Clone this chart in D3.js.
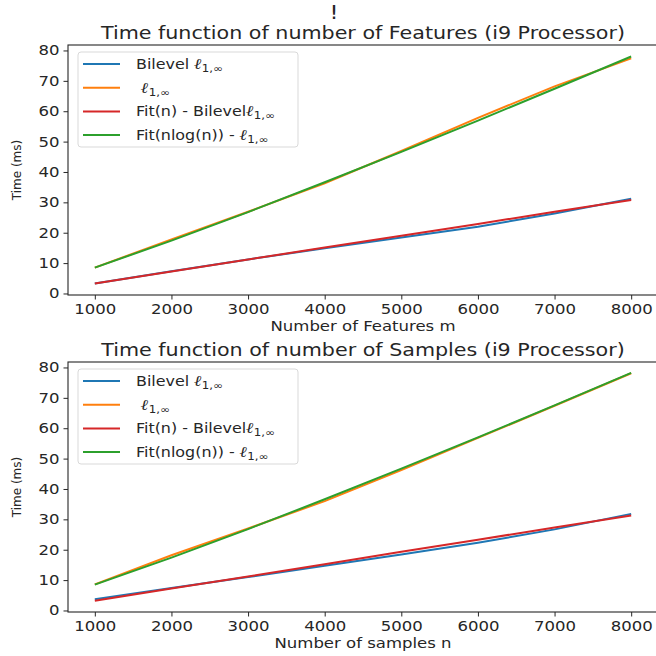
<!DOCTYPE html>
<html>
<head>
<meta charset="utf-8">
<script src="https://cdn.jsdelivr.net/npm/d3@7"></script>
<style>
  body { margin: 0; background: #fff; }
  text { font-family: "DejaVu Sans", sans-serif; fill: #262626; }
</style>
</head>
<body>
<div id="chart"></div>
<script>
// Problem sizes (x values)
var sizes = [1000, 2000, 3000, 4000, 5000, 6000, 7000, 8000];

// Top panel: time vs number of features
var featBilevel   = [3.3, 7.3, 11.2, 14.9, 18.4, 22.0, 26.3, 31.2];
var featL1inf     = [8.5, 17.8, 26.9, 36.3, 46.9, 57.8, 68.2, 77.4];
var featFitN      = [3.3, 7.2, 11.2, 15.1, 19.0, 22.9, 26.9, 30.8];
var featFitNlogN  = [8.5, 17.4, 26.8, 36.6, 46.6, 56.9, 67.4, 78.0];

// Bottom panel: time vs number of samples
var sampBilevel   = [3.7, 7.4, 11.0, 14.7, 18.4, 22.3, 26.7, 31.8];
var sampL1inf     = [8.6, 18.2, 27.0, 36.0, 46.2, 56.8, 67.4, 78.1];
var sampFitN      = [3.2, 7.2, 11.2, 15.2, 19.3, 23.3, 27.3, 31.3];
var sampFitNlogN  = [8.5, 17.4, 26.8, 36.6, 46.7, 57.0, 67.5, 78.2];

var xTicks = [1000, 2000, 3000, 4000, 5000, 6000, 7000, 8000];
var yTicks = [0, 10, 20, 30, 40, 50, 60, 70, 80];

var seriesNames = ["Bilevel ", " ", "Fit(n) - Bilevel", "Fit(nlog(n)) - "];
var colours = ["#1f77b4", "#ff7f0e", "#d62728", "#2ca02c"];

var width = 656, height = 656;
var sx = 1.18; // text in the picture is stretched horizontally

var svg = d3.select("#chart").append("svg")
  .attr("width", width)
  .attr("height", height)
  .attr("viewBox", "0 0 " + width + " " + height);

// stray suptitle
svg.append("text")
  .attr("transform", "translate(334,19) scale(" + sx + ",1)")
  .attr("text-anchor", "middle")
  .style("font-size", "19px")
  .text("!");

function panel(opts) {
  var left = 68, right = 658;
  var top = opts.top, bottom = opts.top + 250;

  var scaleX = d3.scaleLinear().domain([650, 8350]).range([left, right]);
  var scaleY = d3.scaleLinear().domain([-0.5, 81.8]).range([bottom, top]);

  var series = opts.series.map(function (s) {
    return sizes.map(function (n, i) { return { x: n, y: s[i] }; });
  });

  var g = svg.append("g");

  var line = d3.line()
    .x(function (d) { return scaleX(d.x); })
    .y(function (d) { return scaleY(d.y); });

  g.selectAll("path.line")
    .data(series)
    .enter()
    .append("path")
    .attr("class", "line")
    .attr("d", line)
    .attr("fill", "none")
    .attr("stroke", function (d, i) { return colours[i]; })
    .attr("stroke-width", 2);

  // axes
  var xAxis = g.append("g")
    .attr("transform", "translate(0," + bottom + ")")
    .call(d3.axisBottom(scaleX).tickValues(xTicks).tickSize(4.5).tickPadding(5).tickFormat(d3.format("d")));
  var yAxis = g.append("g")
    .attr("transform", "translate(" + left + ",0)")
    .call(d3.axisLeft(scaleY).tickValues(yTicks).tickSize(4.5).tickPadding(4));

  [xAxis, yAxis].forEach(function (a) {
    a.select(".domain").remove();
    a.selectAll(".tick line").attr("stroke", "#262626").attr("stroke-width", 1);
    a.selectAll(".tick text")
      .attr("fill", "#262626")
      .style("font-family", "'DejaVu Sans', sans-serif")
      .style("font-size", "14px");
  });
  xAxis.selectAll(".tick text").attr("transform", "scale(" + sx + ",1)");
  yAxis.selectAll(".tick text")
    .attr("x", null)
    .attr("transform", "translate(-8.5,0) scale(" + sx + ",1)");

  // spines
  g.append("rect")
    .attr("x", left).attr("y", top)
    .attr("width", right - left).attr("height", bottom - top)
    .attr("fill", "none")
    .attr("stroke", "#262626")
    .attr("stroke-width", 1.1);

  // title and labels
  g.append("text")
    .attr("transform", "translate(" + ((left + right) / 2) + "," + (top - 6) + ") scale(" + sx + ",1)")
    .attr("text-anchor", "middle")
    .style("font-size", "17.5px")
    .text(opts.title);

  g.append("text")
    .attr("transform", "translate(" + ((left + right) / 2) + "," + (bottom + 36) + ") scale(" + sx + ",1)")
    .attr("text-anchor", "middle")
    .style("font-size", "14px")
    .text(opts.xLabel);

  g.append("text")
    .attr("transform", "translate(21," + ((top + bottom) / 2) + ") rotate(-90)")
    .attr("text-anchor", "middle")
    .style("font-size", "12px")
    .text("Time (ms)");

  // legend
  var lg = g.append("g").attr("transform", "translate(78," + (top + 7) + ")");
  lg.append("rect")
    .attr("width", 220).attr("height", 95)
    .attr("rx", 3)
    .attr("fill", "#fff")
    .attr("fill-opacity", 0.8)
    .attr("stroke", "#d9d9d9");

  var entries = lg.selectAll("g.entry")
    .data(seriesNames)
    .enter().append("g")
    .attr("class", "entry")
    .attr("transform", function (d, i) { return "translate(0," + (12 + i * 23.7) + ")"; });

  entries.append("line")
    .attr("x1", 5).attr("x2", 42)
    .attr("stroke", function (d, i) { return colours[i]; })
    .attr("stroke-width", 2);

  var t = entries.append("text")
    .attr("transform", "translate(58,5) scale(" + sx + ",1)")
    .style("font-size", "13.5px")
    .attr("xml:space", "preserve");
  t.append("tspan").text(function (d) { return d; });
  t.append("tspan")
    .style("font-family", "'DejaVu Serif', serif")
    .style("font-style", "italic")
    .style("font-weight", "bold")
    .style("font-size", "15px")
    .text("ℓ");
  t.append("tspan")
    .attr("dy", 3)
    .style("font-size", "10px")
    .text("1,∞");
}

panel({
  top: 45,
  title: "Time function of number of Features (i9 Processor)",
  xLabel: "Number of Features m",
  series: [featBilevel, featL1inf, featFitN, featFitNlogN]
});

panel({
  top: 362,
  title: "Time function of number of Samples (i9 Processor)",
  xLabel: "Number of samples n",
  series: [sampBilevel, sampL1inf, sampFitN, sampFitNlogN]
});
</script>
</body>
</html>
